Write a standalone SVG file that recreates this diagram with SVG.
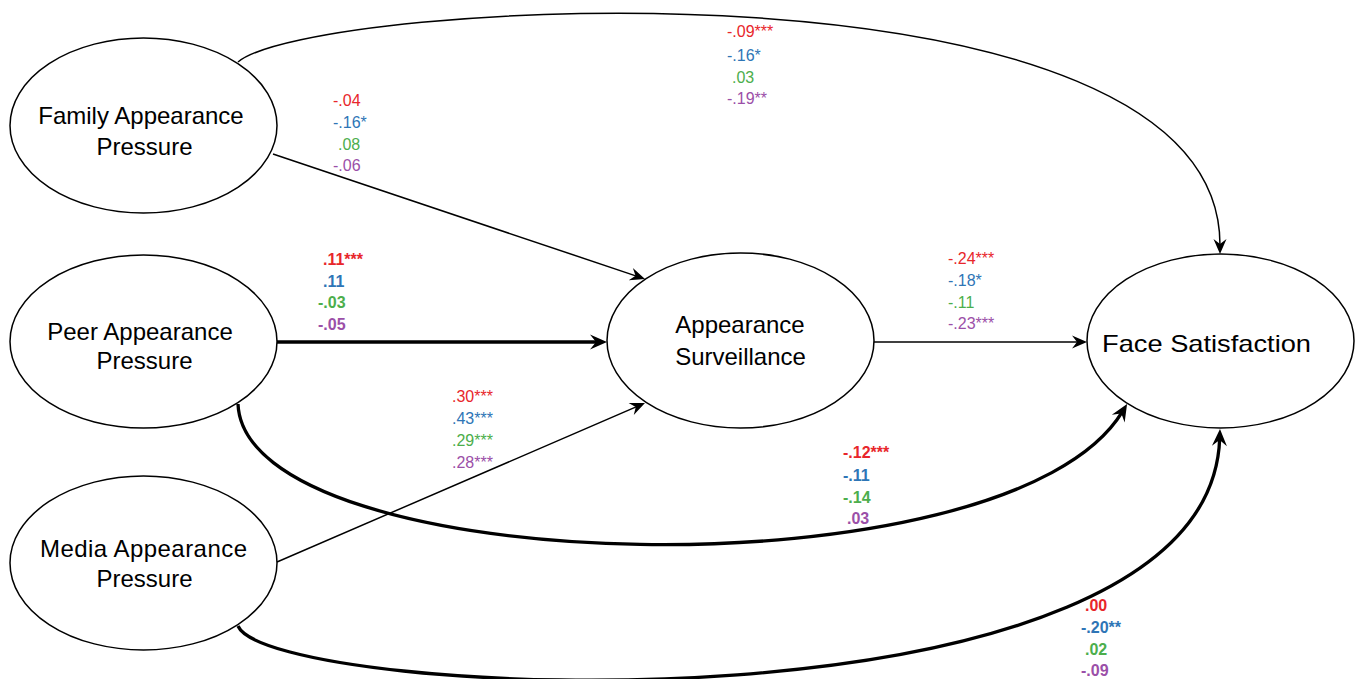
<svg xmlns="http://www.w3.org/2000/svg" width="1357" height="679" viewBox="0 0 1357 679">
<style>
.node{fill:#fff;stroke:#000;stroke-width:1.5}
.nt{font-family:"Liberation Sans",Arial,sans-serif;font-size:24px;fill:#000}
.thin{fill:none;stroke:#000;stroke-width:1.5}
.thick{fill:none;stroke:#000;stroke-width:3.3}
.v{font-family:"Liberation Sans",Arial,sans-serif;font-size:16px}
.b{font-weight:bold}
.r{fill:#e8262b}
.bl{fill:#2e75b6}
.g{fill:#4cae4c}
.p{fill:#9b4fa8}
</style>
<defs>
<marker id="ah" markerUnits="userSpaceOnUse" viewBox="-17 -8 19 16" markerWidth="19" markerHeight="16" refX="-9" refY="0" orient="auto">
<path d="M0,0 L-15,-6.5 L-10,0 L-15,6.5 Z" fill="#000"/>
</marker>
<marker id="ahb" markerUnits="userSpaceOnUse" viewBox="-19 -9 21 18" markerWidth="21" markerHeight="18" refX="-9" refY="0" orient="auto">
<path d="M0,0 L-17,-7.5 L-11,0 L-17,7.5 Z" fill="#000"/>
</marker>
</defs>
<g id="connectors">
<path class="thin" d="M238,62 C310,0 1220,-55 1220,245" marker-end="url(#ah)"/>
<path class="thin" d="M273,154 L636.5,276.1" marker-end="url(#ah)"/>
<path class="thick" d="M277,342 L598,342" marker-end="url(#ahb)"/>
<path class="thin" d="M277,562 L636.7,406.6" marker-end="url(#ah)"/>
<path class="thin" d="M874,342 L1078,342" marker-end="url(#ah)"/>
<path class="thick" d="M238,404 C245,580 1008,600 1122.4,411.7" marker-end="url(#ahb)"/>
<path class="thick" d="M238,626 C270,700 1210,745 1219.7,438" marker-end="url(#ahb)"/>
</g>
<g id="family">
<ellipse class="node" cx="143.5" cy="125.5" rx="133.5" ry="87.5"/>
<text class="nt" x="141" y="124" text-anchor="middle">Family Appearance</text>
<text class="nt" x="144.5" y="155" text-anchor="middle">Pressure</text>
</g>
<g id="peer">
<ellipse class="node" cx="143.5" cy="341.5" rx="133.5" ry="86.5"/>
<text class="nt" x="140" y="340" text-anchor="middle">Peer Appearance</text>
<text class="nt" x="144.5" y="369" text-anchor="middle">Pressure</text>
</g>
<g id="media">
<ellipse class="node" cx="143.5" cy="563" rx="133.5" ry="87"/>
<text class="nt" x="143.5" y="557" text-anchor="middle" textLength="207">Media Appearance</text>
<text class="nt" x="144.5" y="587" text-anchor="middle">Pressure</text>
</g>
<g id="surveillance">
<ellipse class="node" cx="740.5" cy="340.5" rx="133.5" ry="87.5"/>
<text class="nt" x="740" y="333" text-anchor="middle">Appearance</text>
<text class="nt" x="740.5" y="365" text-anchor="middle">Surveillance</text>
</g>
<g id="face">
<ellipse class="node" cx="1220.5" cy="341" rx="133.5" ry="87"/>
<text class="nt" x="1206.5" y="352" text-anchor="middle" textLength="209" lengthAdjust="spacingAndGlyphs">Face Satisfaction</text>
</g>
<g id="labels">
<text class="v r" x="333" y="106">-.04</text>
<text class="v bl" x="333" y="128">-.16*</text>
<text class="v g" x="338" y="150">.08</text>
<text class="v p" x="333" y="171">-.06</text>

<text class="v b r" x="323" y="265">.11***</text>
<text class="v b bl" x="323" y="287">.11</text>
<text class="v b g" x="318" y="308">-.03</text>
<text class="v b p" x="318" y="330">-.05</text>

<text class="v r" x="727" y="37">-.09***</text>
<text class="v bl" x="727" y="61">-.16*</text>
<text class="v g" x="732" y="83">.03</text>
<text class="v p" x="727" y="104">-.19**</text>

<text class="v r" x="948" y="264">-.24***</text>
<text class="v bl" x="948" y="286">-.18*</text>
<text class="v g" x="948" y="308">-.11</text>
<text class="v p" x="948" y="329">-.23***</text>

<text class="v r" x="452" y="402">.30***</text>
<text class="v bl" x="452" y="424">.43***</text>
<text class="v g" x="452" y="446">.29***</text>
<text class="v p" x="452" y="468">.28***</text>

<text class="v b r" x="843" y="458">-.12***</text>
<text class="v b bl" x="843" y="481">-.11</text>
<text class="v b g" x="843" y="503">-.14</text>
<text class="v b p" x="847" y="524">.03</text>

<text class="v b r" x="1085" y="611">.00</text>
<text class="v b bl" x="1081" y="633">-.20**</text>
<text class="v b g" x="1085" y="655">.02</text>
<text class="v b p" x="1081" y="676">-.09</text>
</g>
</svg>
